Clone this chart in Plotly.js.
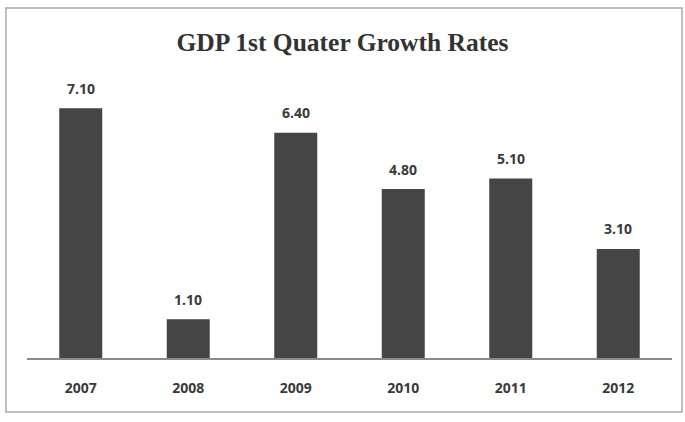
<!DOCTYPE html>
<html><head><meta charset="utf-8">
<script src="https://cdn.plot.ly/plotly-3.0.1.min.js"></script>
<style>html,body{margin:0;padding:0;background:#fff}</style>
</head><body>
<div id="chart" style="width:685px;height:422px"></div>
<script>
const years = ["2007","2008","2009","2010","2011","2012"];
const growth = [7.10, 1.10, 6.40, 4.80, 5.10, 3.10];
const labels = growth.map(v => v.toFixed(2));

const labelFont = {family: "Open Sans, DejaVu Sans, sans-serif", size: 14, color: "#3a3a3a", weight: "bold"};

const trace = {
  type: "bar",
  x: years,
  y: growth,
  marker: {color: "#454545", line: {width: 0}},
  hoverinfo: "skip"
};

const annotations = years.map((yr, i) => ({
  x: i, y: growth[i], xref: "x", yref: "y",
  text: labels[i], showarrow: false, yanchor: "middle", yshift: 20,
  font: labelFont
}));

const layout = {
  width: 685, height: 422,
  margin: {l: 27, r: 13, t: 80, b: 64},
  paper_bgcolor: "#fff", plot_bgcolor: "#fff",
  bargap: 0.6,
  showlegend: false,
  title: {text: "<b>GDP 1st Quater Growth Rates</b>", x: 0.5, xanchor: "center", y: 0.9, yanchor: "middle",
          font: {family: "Liberation Serif, Times New Roman, serif", size: 25.5, color: "#333"}},
  xaxis: {type: "category", categoryarray: years, categoryorder: "array", range: [-0.5, 5.5],
          showline: true, linecolor: "#8a8a8a", linewidth: 1.5, ticks: "",
          showgrid: false, zeroline: false, ticklabelstandoff: 17,
          tickfont: labelFont},
  yaxis: {range: [0, 7.9], visible: false, showgrid: false, zeroline: false},
  annotations: annotations,
  shapes: [{type: "rect", xref: "paper", yref: "paper", x0: -0.0326, x1: 1.0155, y0: -0.194, y1: 1.259,
            line: {color: "#aaa", width: 1.5}, fillcolor: "rgba(0,0,0,0)", layer: "below"}]
};

Plotly.newPlot("chart", [trace], layout, {displayModeBar: false, staticPlot: true});
</script>
</body></html>
